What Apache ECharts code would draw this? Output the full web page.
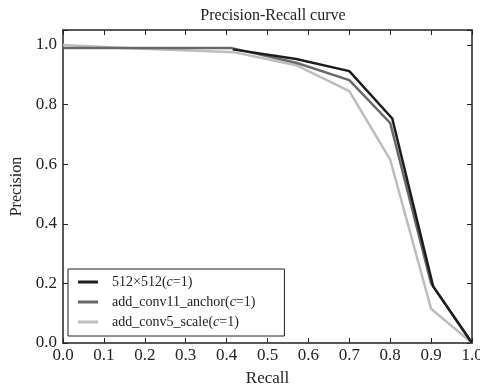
<!DOCTYPE html>
<html>
<head>
<meta charset="utf-8">
<script src="https://cdn.jsdelivr.net/npm/echarts@6/dist/echarts.min.js"></script>
<style>
  html, body { margin: 0; padding: 0; background: #fff; }
  #main { width: 480px; height: 386px; }
</style>
</head>
<body>
<div id="main"></div>
<script>
// 数据：PR 曲线顶点
var seriesNames = ['512×512(c=1)', 'add_conv11_anchor(c=1)', 'add_conv5_scale(c=1)'];
var recall512 = [0.415, 0.57, 0.70, 0.805, 0.905, 1.0];
var prec512 = [0.985, 0.953, 0.912, 0.753, 0.19, 0.0];
var recallAnchor = [0.0, 0.41, 0.57, 0.70, 0.80, 0.90, 1.0];
var precAnchor = [0.99, 0.99, 0.94, 0.882, 0.738, 0.20, 0.0];
var recallScale = [0.0, 0.15, 0.42, 0.57, 0.70, 0.80, 0.90, 1.0];
var precScale = [1.0, 0.99, 0.975, 0.932, 0.845, 0.615, 0.115, 0.0];

function pairs(xs, ys) {
  return xs.map(function (x, i) { return [x, ys[i]]; });
}

var serif = '"Liberation Serif", "DejaVu Serif", serif';
var colors = ['#1c1c1c', '#686868', '#bdbdbd'];

var myChart = echarts.init(document.getElementById('main'));

var tickStyle = { show: true, inside: true, length: 5, lineStyle: { color: '#222', width: 1 } };
var lineStyle = { show: true, onZero: false, lineStyle: { color: '#222', width: 1.5 } };

var option = {
  animation: false,
  backgroundColor: '#fff',
  title: {
    text: 'Precision-Recall curve',
    left: 268, top: 3, textAlign: 'center',
    textStyle: { fontFamily: serif, fontSize: 16, fontWeight: 'normal', color: '#222' }
  },
  legend: {
    orient: 'vertical',
    left: 68, top: 269,
    padding: [6, 29, 7, 10],
    itemGap: 6,
    itemWidth: 20, itemHeight: 3,
    icon: 'rect',
    borderColor: '#222', borderWidth: 1,
    backgroundColor: '#fff',
    data: seriesNames,
    formatter: function (name) {
      return name.replace('(c=', '({i|c}=');
    },
    textStyle: {
      fontFamily: serif, fontSize: 14, color: '#222', lineHeight: 14,
      padding: [0, 0, 0, 9],
      rich: { i: { fontFamily: serif, fontSize: 14, fontStyle: 'italic', color: '#222', lineHeight: 14 } }
    }
  },
  // 固定绘图区，不让标签把网格挤小
  grid: { left: 63, right: 8, top: 30, bottom: 43, show: false, outerBoundsMode: 'none', containLabel: false },
  xAxis: [{
    type: 'value', min: 0, max: 1, interval: 0.1,
    name: 'Recall', nameLocation: 'middle', nameGap: 27,
    nameTextStyle: { fontFamily: serif, fontSize: 17, color: '#222' },
    axisLine: lineStyle, axisTick: tickStyle, splitLine: { show: false },
    axisLabel: { fontFamily: serif, fontSize: 17, color: '#222', margin: 4,
      formatter: function (v) { return v.toFixed(1); } }
  }, {
    type: 'value', position: 'top', min: 0, max: 1, interval: 0.1,
    axisLine: lineStyle, axisTick: tickStyle, splitLine: { show: false },
    axisLabel: { show: false }
  }],
  yAxis: [{
    type: 'value', min: 0, max: 1.05, interval: 0.2,
    name: 'Precision', nameLocation: 'middle', nameGap: 33,
    nameTextStyle: { fontFamily: serif, fontSize: 16, color: '#222' },
    axisLine: lineStyle, axisTick: tickStyle, splitLine: { show: false },
    axisLabel: { fontFamily: serif, fontSize: 17, color: '#222', margin: 6,
      formatter: function (v) { return v > 1.01 ? '' : v.toFixed(1); } }
  }, {
    type: 'value', position: 'right', min: 0, max: 1.05, interval: 0.2,
    axisLine: lineStyle, axisTick: tickStyle, splitLine: { show: false },
    axisLabel: { show: false }
  }],
  series: [
    {
      name: seriesNames[2], type: 'line', data: pairs(recallScale, precScale),
      symbol: 'none', z: 2,
      lineStyle: { color: colors[2], width: 2.5 }, itemStyle: { color: colors[2] }
    },
    {
      name: seriesNames[1], type: 'line', data: pairs(recallAnchor, precAnchor),
      symbol: 'none', z: 3,
      lineStyle: { color: colors[1], width: 2.5 }, itemStyle: { color: colors[1] }
    },
    {
      name: seriesNames[0], type: 'line', data: pairs(recall512, prec512),
      symbol: 'none', z: 4,
      lineStyle: { color: colors[0], width: 2.5 }, itemStyle: { color: colors[0] }
    }
  ]
};

myChart.setOption(option);
</script>
</body>
</html>
